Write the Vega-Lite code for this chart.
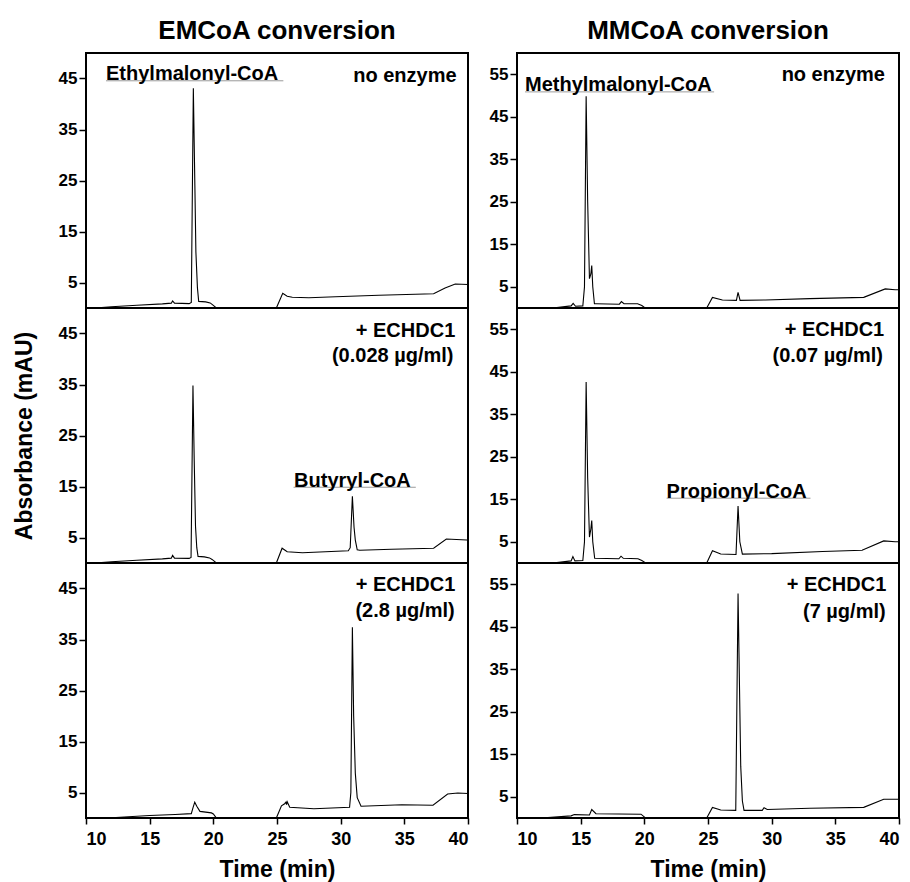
{
  "$schema": "https://vega.github.io/schema/vega-lite/v6.json",
  "background": "white",
  "padding": {"left": 12, "top": 17, "right": 6, "bottom": 4},
  "datasets": {
    "A": [{"t":10.7,"v":0},{"t":12,"v":0.25},{"t":14,"v":0.55},{"t":16,"v":0.8},{"t":16.7,"v":0.95},{"t":16.8,"v":1.4},{"t":16.95,"v":0.95},{"t":18.1,"v":0.85},{"t":18.27,"v":1.1},{"t":18.43,"v":43.1},{"t":18.55,"v":24},{"t":18.63,"v":11},{"t":18.75,"v":4},{"t":18.85,"v":1.3},{"t":19.4,"v":1.2},{"t":19.75,"v":1.0},{"t":19.95,"v":0.6},{"t":20.25,"v":0},{"t":20.4,"v":-2},{"t":24.8,"v":-2},{"t":24.95,"v":0},{"t":25.45,"v":2.9},{"t":25.8,"v":2.3},{"t":26.2,"v":2.1},{"t":27.5,"v":2.0},{"t":29.6,"v":2.2},{"t":33,"v":2.5},{"t":37.3,"v":2.8},{"t":38.2,"v":3.9},{"t":39.0,"v":4.7},{"t":40,"v":4.6}],
    "B": [{"t":10.7,"v":0},{"t":12,"v":0.25},{"t":14,"v":0.55},{"t":16,"v":0.8},{"t":16.7,"v":0.95},{"t":16.8,"v":1.5},{"t":16.95,"v":0.95},{"t":18.1,"v":0.9},{"t":18.25,"v":1.1},{"t":18.4,"v":34.8},{"t":18.5,"v":20},{"t":18.6,"v":7.2},{"t":18.7,"v":3},{"t":18.8,"v":1.3},{"t":19.3,"v":1.2},{"t":19.7,"v":1.0},{"t":19.9,"v":0.7},{"t":20.25,"v":0},{"t":20.4,"v":-2},{"t":24.8,"v":-2},{"t":24.95,"v":0},{"t":25.4,"v":2.9},{"t":25.8,"v":2.2},{"t":27,"v":2.0},{"t":30.6,"v":2.4},{"t":30.75,"v":3},{"t":30.92,"v":13.1},{"t":31.05,"v":7},{"t":31.15,"v":4.5},{"t":31.3,"v":2.6},{"t":31.5,"v":2.5},{"t":34,"v":2.7},{"t":37.3,"v":2.9},{"t":38.3,"v":4.7},{"t":39.9,"v":4.5},{"t":40,"v":4.5}],
    "C": [{"t":11.7,"v":0},{"t":13,"v":0.2},{"t":15,"v":0.5},{"t":17,"v":0.7},{"t":18.27,"v":0.85},{"t":18.4,"v":2},{"t":18.54,"v":3.1},{"t":18.7,"v":2.3},{"t":18.95,"v":1.3},{"t":19.85,"v":1.0},{"t":20.0,"v":0.8},{"t":20.24,"v":0},{"t":20.4,"v":-2},{"t":24.8,"v":-2},{"t":24.95,"v":0},{"t":25.35,"v":2.4},{"t":25.6,"v":2.8},{"t":25.7,"v":3.1},{"t":25.75,"v":2.6},{"t":25.8,"v":3.2},{"t":26.0,"v":2.1},{"t":27.9,"v":1.8},{"t":30.7,"v":2.1},{"t":30.8,"v":5},{"t":30.92,"v":37.4},{"t":31.02,"v":20},{"t":31.15,"v":8.8},{"t":31.3,"v":4},{"t":31.6,"v":2.3},{"t":34.8,"v":2.6},{"t":37.25,"v":2.5},{"t":38.4,"v":4.7},{"t":39.2,"v":4.9},{"t":40,"v":4.8}],
    "D": [{"t":12.8,"v":0},{"t":14.25,"v":0.5},{"t":14.41,"v":1.1},{"t":14.6,"v":0.4},{"t":15.17,"v":0.5},{"t":15.3,"v":5},{"t":15.43,"v":49.8},{"t":15.55,"v":25},{"t":15.69,"v":6.9},{"t":15.8,"v":8},{"t":15.87,"v":10.0},{"t":15.95,"v":5},{"t":16.08,"v":1.0},{"t":16.2,"v":1.0},{"t":18.04,"v":0.9},{"t":18.2,"v":1.5},{"t":18.4,"v":1.0},{"t":19.47,"v":1.0},{"t":19.8,"v":0.6},{"t":20.08,"v":0},{"t":20.3,"v":-2},{"t":24.7,"v":-2},{"t":24.9,"v":0},{"t":25.35,"v":2.5},{"t":26.13,"v":1.9},{"t":27.23,"v":1.8},{"t":27.36,"v":3.7},{"t":27.52,"v":1.8},{"t":29.5,"v":1.9},{"t":33,"v":2.2},{"t":37.23,"v":2.5},{"t":38.92,"v":4.5},{"t":39.7,"v":4.3},{"t":40,"v":4.3}],
    "E": [{"t":12.8,"v":0},{"t":14.25,"v":0.5},{"t":14.39,"v":1.5},{"t":14.55,"v":0.5},{"t":15.17,"v":0.6},{"t":15.3,"v":5},{"t":15.43,"v":42.6},{"t":15.55,"v":20},{"t":15.69,"v":6.1},{"t":15.8,"v":8},{"t":15.87,"v":10.0},{"t":15.95,"v":5},{"t":16.1,"v":1.1},{"t":18.0,"v":1.0},{"t":18.17,"v":1.6},{"t":18.35,"v":1.1},{"t":19.5,"v":1.0},{"t":19.8,"v":0.6},{"t":20.12,"v":0},{"t":20.3,"v":-2},{"t":24.7,"v":-2},{"t":24.9,"v":0},{"t":25.35,"v":2.9},{"t":26.0,"v":2.1},{"t":27.2,"v":2.0},{"t":27.36,"v":13.4},{"t":27.5,"v":5},{"t":27.7,"v":2.1},{"t":30,"v":2.2},{"t":34,"v":2.7},{"t":37.1,"v":3.0},{"t":38.8,"v":5.2},{"t":39.7,"v":5.0},{"t":40,"v":5.0}],
    "F": [{"t":11.9,"v":0},{"t":14.25,"v":0.5},{"t":14.5,"v":0.8},{"t":15.69,"v":0.7},{"t":15.87,"v":2.0},{"t":16.2,"v":1.0},{"t":19.74,"v":0.9},{"t":20.1,"v":0},{"t":20.3,"v":-2},{"t":24.7,"v":-2},{"t":24.9,"v":0},{"t":25.35,"v":2.5},{"t":26.0,"v":1.9},{"t":27.18,"v":1.8},{"t":27.36,"v":52.8},{"t":27.57,"v":12.2},{"t":27.7,"v":4},{"t":27.83,"v":1.8},{"t":29.26,"v":1.8},{"t":29.4,"v":2.4},{"t":29.65,"v":2.0},{"t":33,"v":2.3},{"t":37.23,"v":2.5},{"t":38.8,"v":4.4},{"t":39.9,"v":4.4},{"t":40,"v":4.4}],
    "lblL": [
      {"p":"A","t":11.57,"v":44.7,"s":"Ethylmalonyl-CoA"},
      {"p":"B","t":26.34,"v":15.0,"s":"Butyryl-CoA"},
      {"p":"D","t":10.63,"v":51.0,"s":"Methylmalonyl-CoA"},
      {"p":"E","t":21.75,"v":15.4,"s":"Propionyl-CoA"}
    ],
    "lblR": [
      {"p":"A","t":39.1,"v":44.4,"s":"no enzyme"},
      {"p":"B","t":39.0,"v":44.4,"s":"+ ECHDC1"},
      {"p":"B","t":38.86,"v":39.5,"s":"(0.028 µg/ml)"},
      {"p":"C","t":39.0,"v":44.6,"s":"+ ECHDC1"},
      {"p":"C","t":38.96,"v":39.5,"s":"(2.8 µg/ml)"},
      {"p":"D","t":38.9,"v":53.35,"s":"no enzyme"},
      {"p":"E","t":38.84,"v":53.4,"s":"+ ECHDC1"},
      {"p":"E","t":38.74,"v":47.3,"s":"(0.07 µg/ml)"},
      {"p":"F","t":39.0,"v":53.4,"s":"+ ECHDC1"},
      {"p":"F","t":38.95,"v":47.0,"s":"(7 µg/ml)"}
    ],
    "ul": [
      {"p":"A","t":11.57,"t2":25.5,"v":44.55},
      {"p":"B","t":26.3,"t2":35.9,"v":14.85},
      {"p":"D","t":10.63,"t2":25.48,"v":50.85},
      {"p":"E","t":21.75,"t2":33.05,"v":15.25}
    ]
  },
  "columns": 2,
  "spacing": {"row": 0, "column": 49},
  "bounds": "flush",
  "concat": [
    {
      "width": 382, "height": 255,
      "title": {"text": "EMCoA conversion", "offset": -12, "baseline": "alphabetic", "anchor": "middle"},
      "encoding": {
        "x": {"field": "t", "type": "quantitative", "scale": {"domain": [10, 40], "nice": false, "zero": false}, "axis": null},
        "y": {"field": "v", "type": "quantitative", "scale": {"domain": [0, 50], "nice": false}, "axis": {"values": [5, 15, 25, 35, 45], "title": null}}
      },
      "layer": [
        {"data": {"name": "A"}, "mark": {"type": "line", "color": "black", "strokeWidth": 1.1, "clip": true}},
        {"data": {"name": "ul"}, "transform": [{"filter": "datum.p == 'A'"}], "mark": {"type": "rule", "color": "#9a9a9a", "strokeWidth": 1}, "encoding": {"x2": {"field": "t2"}}},
        {"data": {"name": "lblL"}, "transform": [{"filter": "datum.p == 'A'"}], "mark": {"type": "text", "align": "left", "baseline": "alphabetic", "fontSize": 20, "fontWeight": "bold", "color": "black"}, "encoding": {"text": {"field": "s"}}},
        {"data": {"name": "lblR"}, "transform": [{"filter": "datum.p == 'A'"}], "mark": {"type": "text", "align": "right", "baseline": "alphabetic", "fontSize": 20, "fontWeight": "bold", "color": "black"}, "encoding": {"text": {"field": "s"}}}
      ]
    },
    {
      "width": 382, "height": 255,
      "title": {"text": "MMCoA conversion", "offset": -12, "baseline": "alphabetic", "anchor": "middle"},
      "encoding": {
        "x": {"field": "t", "type": "quantitative", "scale": {"domain": [10, 40], "nice": false, "zero": false}, "axis": null},
        "y": {"field": "v", "type": "quantitative", "scale": {"domain": [0, 60], "nice": false}, "axis": {"values": [5, 15, 25, 35, 45, 55], "title": null}}
      },
      "layer": [
        {"data": {"name": "D"}, "mark": {"type": "line", "color": "black", "strokeWidth": 1.1, "clip": true}},
        {"data": {"name": "ul"}, "transform": [{"filter": "datum.p == 'D'"}], "mark": {"type": "rule", "color": "#9a9a9a", "strokeWidth": 1}, "encoding": {"x2": {"field": "t2"}}},
        {"data": {"name": "lblL"}, "transform": [{"filter": "datum.p == 'D'"}], "mark": {"type": "text", "align": "left", "baseline": "alphabetic", "fontSize": 20, "fontWeight": "bold", "color": "black"}, "encoding": {"text": {"field": "s"}}},
        {"data": {"name": "lblR"}, "transform": [{"filter": "datum.p == 'D'"}], "mark": {"type": "text", "align": "right", "baseline": "alphabetic", "fontSize": 20, "fontWeight": "bold", "color": "black"}, "encoding": {"text": {"field": "s"}}}
      ]
    },
    {
      "width": 382, "height": 255,
      "encoding": {
        "x": {"field": "t", "type": "quantitative", "scale": {"domain": [10, 40], "nice": false, "zero": false}, "axis": null},
        "y": {"field": "v", "type": "quantitative", "scale": {"domain": [0, 50], "nice": false}, "axis": {"values": [5, 15, 25, 35, 45], "title": "Absorbance (mAU)"}}
      },
      "layer": [
        {"data": {"name": "B"}, "mark": {"type": "line", "color": "black", "strokeWidth": 1.1, "clip": true}},
        {"data": {"name": "ul"}, "transform": [{"filter": "datum.p == 'B'"}], "mark": {"type": "rule", "color": "#9a9a9a", "strokeWidth": 1}, "encoding": {"x2": {"field": "t2"}}},
        {"data": {"name": "lblL"}, "transform": [{"filter": "datum.p == 'B'"}], "mark": {"type": "text", "align": "left", "baseline": "alphabetic", "fontSize": 20, "fontWeight": "bold", "color": "black"}, "encoding": {"text": {"field": "s"}}},
        {"data": {"name": "lblR"}, "transform": [{"filter": "datum.p == 'B'"}], "mark": {"type": "text", "align": "right", "baseline": "alphabetic", "fontSize": 20, "fontWeight": "bold", "color": "black"}, "encoding": {"text": {"field": "s"}}}
      ]
    },
    {
      "width": 382, "height": 255,
      "encoding": {
        "x": {"field": "t", "type": "quantitative", "scale": {"domain": [10, 40], "nice": false, "zero": false}, "axis": null},
        "y": {"field": "v", "type": "quantitative", "scale": {"domain": [0, 60], "nice": false}, "axis": {"values": [5, 15, 25, 35, 45, 55], "title": null}}
      },
      "layer": [
        {"data": {"name": "E"}, "mark": {"type": "line", "color": "black", "strokeWidth": 1.1, "clip": true}},
        {"data": {"name": "ul"}, "transform": [{"filter": "datum.p == 'E'"}], "mark": {"type": "rule", "color": "#9a9a9a", "strokeWidth": 1}, "encoding": {"x2": {"field": "t2"}}},
        {"data": {"name": "lblL"}, "transform": [{"filter": "datum.p == 'E'"}], "mark": {"type": "text", "align": "left", "baseline": "alphabetic", "fontSize": 20, "fontWeight": "bold", "color": "black"}, "encoding": {"text": {"field": "s"}}},
        {"data": {"name": "lblR"}, "transform": [{"filter": "datum.p == 'E'"}], "mark": {"type": "text", "align": "right", "baseline": "alphabetic", "fontSize": 20, "fontWeight": "bold", "color": "black"}, "encoding": {"text": {"field": "s"}}}
      ]
    },
    {
      "width": 382, "height": 255,
      "encoding": {
        "x": {"field": "t", "type": "quantitative", "scale": {"domain": [10, 40], "nice": false, "zero": false}, "axis": {"values": [10, 15, 20, 25, 30, 35, 40], "title": "Time (min)", "labelFontSize": 18}},
        "y": {"field": "v", "type": "quantitative", "scale": {"domain": [0, 50], "nice": false}, "axis": {"values": [5, 15, 25, 35, 45], "title": null}}
      },
      "layer": [
        {"data": {"name": "C"}, "mark": {"type": "line", "color": "black", "strokeWidth": 1.1, "clip": true}},
        {"data": {"name": "lblR"}, "transform": [{"filter": "datum.p == 'C'"}], "mark": {"type": "text", "align": "right", "baseline": "alphabetic", "fontSize": 20, "fontWeight": "bold", "color": "black"}, "encoding": {"text": {"field": "s"}}}
      ]
    },
    {
      "width": 382, "height": 255,
      "encoding": {
        "x": {"field": "t", "type": "quantitative", "scale": {"domain": [10, 40], "nice": false, "zero": false}, "axis": {"values": [10, 15, 20, 25, 30, 35, 40], "title": "Time (min)", "labelFontSize": 18}},
        "y": {"field": "v", "type": "quantitative", "scale": {"domain": [0, 60], "nice": false}, "axis": {"values": [5, 15, 25, 35, 45, 55], "title": null}}
      },
      "layer": [
        {"data": {"name": "F"}, "mark": {"type": "line", "color": "black", "strokeWidth": 1.1, "clip": true}},
        {"data": {"name": "lblR"}, "transform": [{"filter": "datum.p == 'F'"}], "mark": {"type": "text", "align": "right", "baseline": "alphabetic", "fontSize": 20, "fontWeight": "bold", "color": "black"}, "encoding": {"text": {"field": "s"}}}
      ]
    }
  ],
  "config": {
    "font": "Liberation Sans",
    "view": {"stroke": "black", "strokeWidth": 2},
    "axis": {
      "domain": false, "grid": false,
      "ticks": true, "tickColor": "black", "tickWidth": 1.5, "tickSize": 7,
      "labelFont": "Liberation Sans", "labelFontWeight": "bold", "labelFontSize": 17, "labelColor": "black", "labelPadding": 2,
      "titleFont": "Liberation Sans", "titleFontWeight": "bold", "titleFontSize": 23, "titleColor": "black", "titlePadding": 22
    },
    "axisX": {"tickSize": 6, "labelPadding": 6, "titlePadding": 10},
    "title": {"font": "Liberation Sans", "fontSize": 26, "fontWeight": "bold", "color": "black"}
  }
}
